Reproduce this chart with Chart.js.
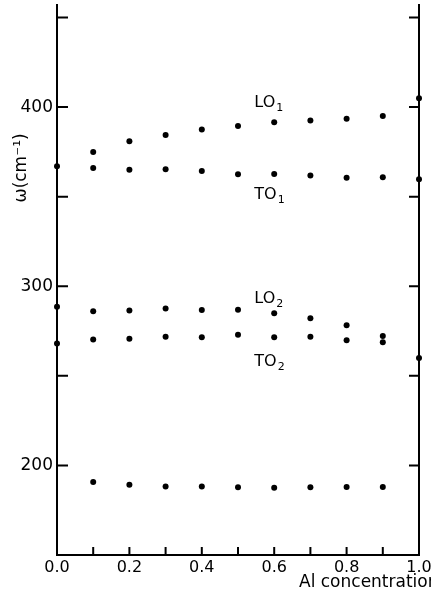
<!DOCTYPE html>
<html>
<head>
<meta charset="utf-8">
<script src="https://cdn.jsdelivr.net/npm/chart.js@4"></script>
<style>
  html, body { margin:0; padding:0; background:#fff; }
  #wrap { width:431px; height:594px; }
</style>
</head>
<body>
<div id="wrap"><canvas id="phonons"></canvas></div>
<script>
// Al concentration (x) and mode frequencies in cm^-1
const conc = [0.0, 0.1, 0.2, 0.3, 0.4, 0.5, 0.6, 0.7, 0.8, 0.9, 1.0];
const lo1  = [null, 375, 381, 384.5, 387.5, 389.5, 391.5, 392.5, 393.5, 395, 405];
const to1  = [367, 366, 365, 365.3, 364.4, 362.5, 362.7, 361.8, 360.6, 360.9, 359.7];
const lo2  = [288.5, 286.1, 286.5, 287.6, 286.7, 286.9, 284.9, 282.1, 278.3, 272.3, null];
const to2  = [268.1, 270.3, 270.7, 271.8, 271.6, 272.9, 271.6, 271.8, 269.9, 268.7, 260];
const low  = [null, 190.7, 189.2, 188.3, 188.3, 187.8, 187.6, 187.8, 187.9, 187.9, null];

const yTickMarks = [200, 250, 300, 350, 400, 450];
const yTickLabels = [200, 300, 400];
const xTickMarks = [0.1, 0.2, 0.3, 0.4, 0.5, 0.6, 0.7, 0.8, 0.9];
const xTickLabels = [0.0, 0.2, 0.4, 0.6, 0.8, 1.0];

// mode labels, placed in data units
const modeLabels = [
  {main:'LO', sub:'1', x:0.545, y:400},
  {main:'TO', sub:'1', x:0.545, y:348.7},
  {main:'LO', sub:'2', x:0.545, y:290.6},
  {main:'TO', sub:'2', x:0.545, y:255.4}
];

const FONT = 'DejaVu Sans';

function pts(arr){
  return conc.map((c,i) => arr[i] == null ? null : {x:c, y:arr[i]}).filter(p => p);
}

function ds(arr){
  return {data: pts(arr), showLine:false, pointRadius:3, pointHoverRadius:3,
          pointBackgroundColor:'#000', pointBorderWidth:0, clip:false};
}

const decor = {
  id:'decor',
  afterDraw(chart){
    const {ctx, chartArea:a, scales:{x, y}} = chart;
    ctx.save();
    ctx.strokeStyle = '#000';
    ctx.lineWidth = 2;
    ctx.beginPath();
    yTickMarks.forEach(v => {
      const py = y.getPixelForValue(v);
      ctx.moveTo(a.left, py); ctx.lineTo(a.left + 11, py);
      ctx.moveTo(a.right, py); ctx.lineTo(a.right - 10, py);
    });
    xTickMarks.forEach(v => {
      const px = x.getPixelForValue(v);
      ctx.moveTo(px, a.bottom); ctx.lineTo(px, a.bottom - 8);
    });
    ctx.stroke();

    ctx.fillStyle = '#000';
    ctx.textBaseline = 'alphabetic';
    modeLabels.forEach(l => {
      const px = x.getPixelForValue(l.x), py = y.getPixelForValue(l.y);
      ctx.font = '16px ' + FONT;
      ctx.fillText(l.main, px, py);
      const w = ctx.measureText(l.main).width;
      ctx.font = '11px ' + FONT;
      ctx.fillText(l.sub, px + w + 1, py + 4);
    });

    // y axis title
    ctx.save();
    ctx.translate(26, 168);
    ctx.rotate(-Math.PI / 2);
    ctx.font = '17px ' + FONT;
    ctx.textAlign = 'center';
    ctx.fillText('ω(cm⁻¹)', 0, 0);
    ctx.restore();

    // x axis title
    ctx.font = '17px ' + FONT;
    ctx.textAlign = 'left';
    ctx.fillText('Al concentration', 299, 587);
    ctx.restore();
  }
};

function noPad(s){
  s.paddingTop = 0; s.paddingBottom = 0; s.paddingLeft = 0; s.paddingRight = 0;
}

new Chart(document.getElementById('phonons'), {
  type:'scatter',
  data:{datasets:[ds(lo1), ds(to1), ds(lo2), ds(to2), ds(low)]},
  options:{
    responsive:true,
    maintainAspectRatio:false,
    animation:false,
    layout:{padding:{top:5, right:0, left:0, bottom:0}},
    plugins:{legend:{display:false}, tooltip:{enabled:false}},
    scales:{
      x:{
        type:'linear', min:0, max:1,
        afterFit(s){ s.height = 39; noPad(s); },
        grid:{display:false, drawTicks:false},
        border:{display:true, color:'#000', width:2},
        ticks:{stepSize:0.1, autoSkip:false, maxRotation:0, padding:3, color:'#000',
               font:{family:FONT, size:16},
               callback:v => xTickLabels.some(t => Math.abs(t - v) < 1e-6) ? v.toFixed(1) : ''}
      },
      y:{
        type:'linear', min:150, max:457,
        afterFit(s){ s.width = 57; noPad(s); },
        grid:{display:false, drawTicks:false},
        border:{display:true, color:'#000', width:2},
        ticks:{stepSize:50, padding:4, color:'#000', font:{family:FONT, size:17},
               callback:v => yTickLabels.includes(v) ? String(v) : ''}
      },
      y2:{
        type:'linear', position:'right', min:150, max:457,
        afterFit(s){ s.width = 12; noPad(s); },
        grid:{display:false, drawTicks:false},
        border:{display:true, color:'#000', width:2},
        ticks:{display:false}
      }
    }
  },
  plugins:[decor]
});
</script>
</body>
</html>
